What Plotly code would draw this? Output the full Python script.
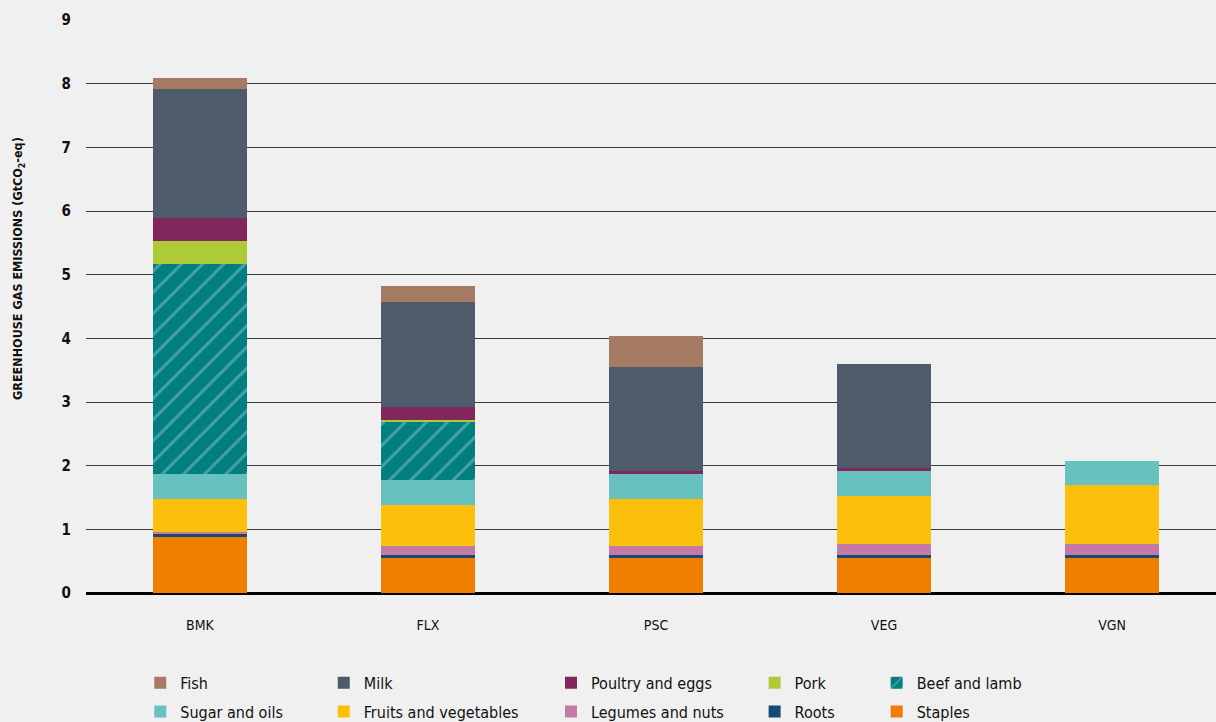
import plotly.graph_objects as go

categories = ["BMK", "FLX", "PSC", "VEG", "VGN"]

staples = [0.88, 0.55, 0.55, 0.55, 0.55]
roots = [0.06, 0.05, 0.05, 0.05, 0.05]
legumes = [0.015, 0.14, 0.14, 0.17, 0.17]
fruits = [0.52, 0.64, 0.74, 0.75, 0.92]
sugar = [0.39, 0.39, 0.39, 0.39, 0.39]
beef = [3.30, 0.93, 0.0, 0.0, 0.0]
pork = [0.36, 0.025, 0.0, 0.0, 0.0]
poultry = [0.36, 0.19, 0.05, 0.06, 0.0]
milk = [2.03, 1.66, 1.63, 1.63, 0.0]
fish = [0.17, 0.24, 0.48, 0.0, 0.0]

y_ticks = [0, 1, 2, 3, 4, 5, 6, 7, 8, 9]

# name, values, colour, legend column, legend row
series = [
    ("Staples", staples, "#EF7D00", "legend5", 2),
    ("Roots", roots, "#164A73", "legend4", 2),
    ("Legumes and nuts", legumes, "#C47AA6", "legend3", 2),
    ("Fruits and vegetables", fruits, "#FCC00C", "legend2", 2),
    ("Sugar and oils", sugar, "#67C1BE", "legend", 2),
    ("Beef and lamb", beef, "#007E80", "legend5", 1),
    ("Pork", pork, "#AFCA37", "legend4", 1),
    ("Poultry and eggs", poultry, "#82265E", "legend3", 1),
    ("Milk", milk, "#4E5B6B", "legend2", 1),
    ("Fish", fish, "#A67B63", "legend", 1),
]

FONT = "DejaVu Sans Condensed, sans-serif"

fig = go.Figure()
for name, vals, color, lg, rank in series:
    marker = dict(color=color, line=dict(width=0))
    if name == "Beef and lamb":
        marker["pattern"] = dict(shape="/", fgcolor="#8CC4C5", bgcolor=color,
                                 size=15, solidity=0.2, fillmode="overlay")
    fig.add_trace(go.Bar(x=categories, y=vals, name=name, marker=marker,
                         width=0.41, legend=lg, legendgroup=name, legendrank=rank,
                         hoverinfo="skip"))

leg_common = dict(orientation="v", traceorder="grouped", bgcolor="rgba(0,0,0,0)",
                  font=dict(family=FONT, size=16, color="#111111"),
                  xanchor="left", yanchor="top", y=-0.127, tracegroupgap=5,
                  itemwidth=30)
lx = [0.048, 0.2104, 0.4115, 0.5917, 0.6997]

fig.update_layout(
    barmode="stack",
    width=1216, height=722,
    paper_bgcolor="#F0F0F0", plot_bgcolor="#F0F0F0",
    margin=dict(l=86, r=0, t=20, b=129, autoexpand=False),
    font=dict(family=FONT, color="#111111"),
    legend=dict(leg_common, x=lx[0]),
    legend2=dict(leg_common, x=lx[1]),
    legend3=dict(leg_common, x=lx[2]),
    legend4=dict(leg_common, x=lx[3]),
    legend5=dict(leg_common, x=lx[4]),
    xaxis=dict(range=[-0.5, 4.456], showgrid=False, zeroline=False,
               tickfont=dict(family=FONT, size=14, color="#111111"),
               ticks="", ticklabelstandoff=22),
    yaxis=dict(range=[0, 9], tickvals=y_ticks, showgrid=True,
               gridcolor="#3A3A3A", gridwidth=1,
               zeroline=True, zerolinecolor="#000000", zerolinewidth=3,
               tickfont=dict(family=FONT, size=15, color="#111111", weight="bold"),
               ticks="", ticklabelstandoff=14),
    annotations=[dict(text="<b>GREENHOUSE GAS EMISSIONS (GtCO<sub>2</sub>-eq)</b>",
                      textangle=-90, xref="paper", yref="paper",
                      x=(18 - 86) / 1130, y=(593 - 269) / 573,
                      xanchor="center", yanchor="middle", showarrow=False,
                      font=dict(family=FONT, size=12.5, color="#111111"))],
)

fig.write_html("out.html", config={"displayModeBar": False},
               post_script="document.body.style.margin='0';document.body.style.background='#F0F0F0';")
